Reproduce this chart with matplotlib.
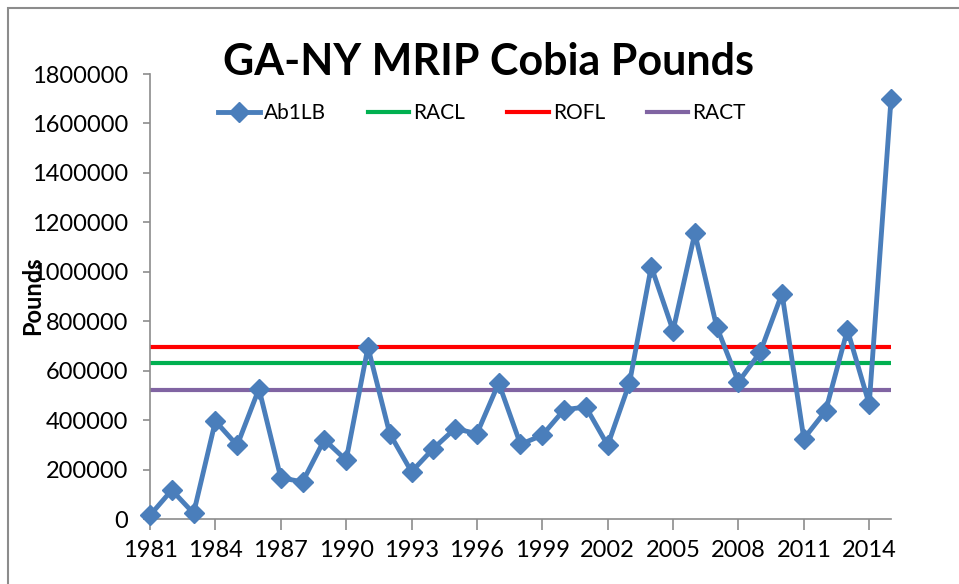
import matplotlib.pyplot as plt
from matplotlib.patches import Rectangle

plt.rcParams['font.family'] = ['Lato', 'DejaVu Sans']

# Data
years = list(range(1981, 2016))
ab1lb = [15000, 117000, 23000, 396000, 298000, 527000, 167000, 150000, 321000, 238000,
         695000, 345000, 191000, 285000, 366000, 345000, 550000, 302000, 339000, 442000,
         453000, 298000, 550000, 1021000, 762000, 1156000, 778000, 554000, 675000, 912000,
         325000, 437000, 765000, 464000, 1698000]
racl = 630000
rofl = 697000
ract = 520000

x_ticks = list(range(1981, 2015, 3))
y_ticks = list(range(0, 1800001, 200000))

fig = plt.figure(figsize=(9.59, 5.84), dpi=100)
ax = fig.add_axes([150 / 959, 65 / 584, 741 / 959, 445 / 584])

# chart border (only top/left visible in the picture)
fig.patches.append(Rectangle((8 / 959, -0.1), 1.2, 1 - 8 / 584 + 0.1, transform=fig.transFigure,
                             fill=False, edgecolor='#8c8c8c', linewidth=1.5))

ax.plot(years, ab1lb, color='#4a7ebb', linewidth=3.5, marker='D', markersize=10,
        label='Ab1LB', zorder=3, clip_on=False)
ax.plot([years[0], years[-1]], [racl, racl], color='#00b050', linewidth=3, label='RACL')
ax.plot([years[0], years[-1]], [rofl, rofl], color='#ff0000', linewidth=3, label='ROFL')
ax.plot([years[0], years[-1]], [ract, ract], color='#8064a2', linewidth=3, label='RACT')

ax.set_xlim(1981, 2015)
ax.set_ylim(0, 1800000)
ax.set_xticks(x_ticks)
ax.set_xticklabels([str(y) for y in x_ticks])
ax.set_yticks(y_ticks)
ax.set_yticklabels([str(v) for v in y_ticks])

for s in ['top', 'right']:
    ax.spines[s].set_visible(False)
for s in ['left', 'bottom']:
    ax.spines[s].set_color('#8c8c8c')
    ax.spines[s].set_linewidth(1.2)
ax.tick_params(axis='x', length=8, width=1.2, color='#8c8c8c', labelsize=17, pad=7)
ax.tick_params(axis='y', length=5, width=1.2, color='#8c8c8c', labelsize=17, pad=11)

fig.text(488 / 959, 1 - 62 / 584, 'GA-NY MRIP Cobia Pounds', ha='center', va='center',
         fontsize=31, fontweight='bold')
fig.text(33 / 959, 1 - 296 / 584, 'Pounds', rotation=90, ha='center', va='center',
         fontsize=17, fontweight='bold')

ax.legend(loc='center', bbox_to_anchor=(482 / 959, 1 - 113 / 584), bbox_transform=fig.transFigure,
          ncol=4, frameon=False, fontsize=15, handlelength=2.0, columnspacing=2.0,
          handletextpad=0.2)

fig.savefig('out.png', dpi=100)
